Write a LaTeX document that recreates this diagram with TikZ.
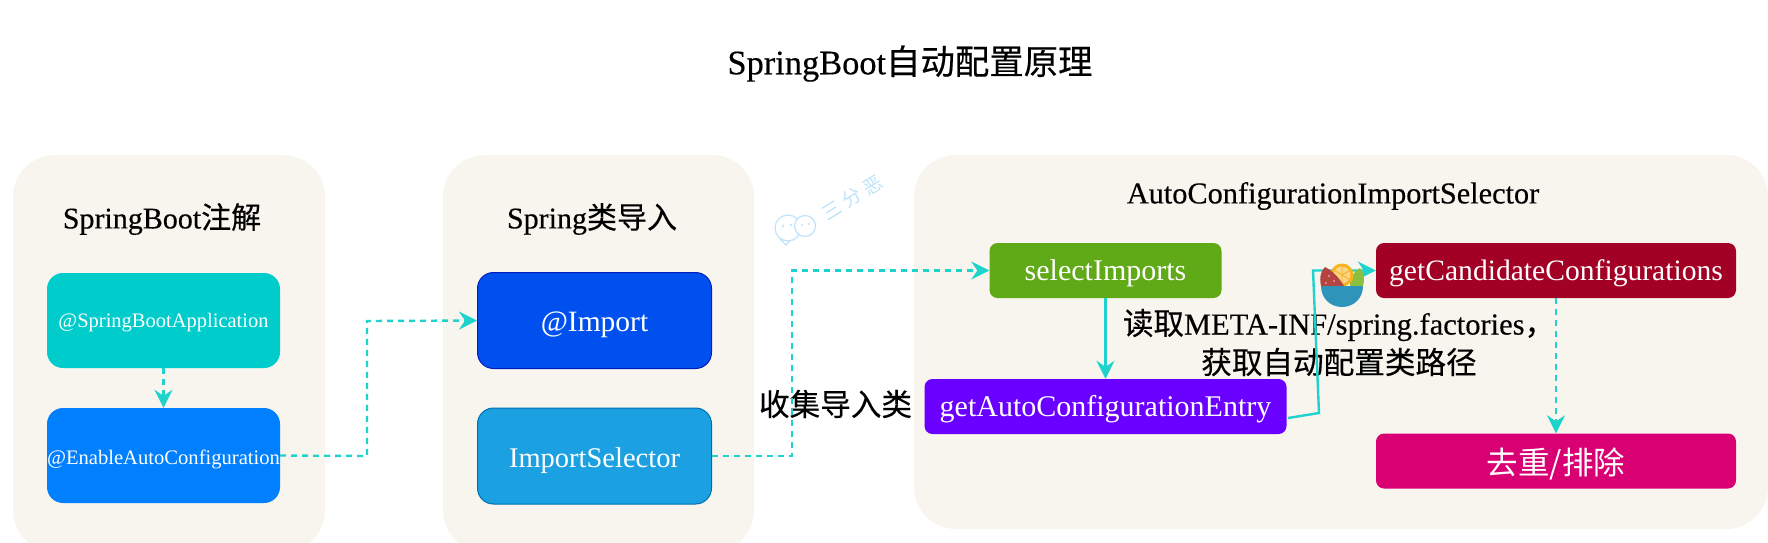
\documentclass[tikz,border=0pt]{standalone}
\usepackage{fontspec}
\setmainfont{Liberation Serif}
\newfontfamily\cjk{Noto Sans CJK SC}
\newfontfamily\hvy[FakeBold=0.35]{Liberation Serif}
\newfontfamily\cjkh[FakeBold=0.35]{Noto Sans CJK SC}
\usetikzlibrary{arrows.meta,positioning}
\definecolor{cream}{HTML}{F8F5EE}
\definecolor{linkc}{HTML}{1FD3CC}
\definecolor{wm}{HTML}{BFE3F8}
\definecolor{cSba}{HTML}{00CCCC}
\definecolor{cEac}{HTML}{007FFF}
\definecolor{cImp}{HTML}{0050EF}
\definecolor{cImpD}{HTML}{001DBC}
\definecolor{cSel}{HTML}{1BA1E2}
\definecolor{cSelD}{HTML}{006EAF}
\definecolor{cGreen}{HTML}{60A917}
\definecolor{cViolet}{HTML}{6A00FF}
\definecolor{cCrim}{HTML}{A20025}
\definecolor{cPink}{HTML}{D80073}
\definecolor{iRed}{HTML}{B5433F}
\definecolor{iGreen}{HTML}{8DBF3F}
\definecolor{iOrange}{HTML}{F7B21E}
\definecolor{iBlue}{HTML}{2E94B9}
\newcommand{\fs}[1]{\fontsize{#1}{#1}\selectfont}
\newcommand{\dn}[2]{\raisebox{-#1pt}[0pt][0pt]{#2}}
\tikzset{
  panel/.style={fill=cream,draw=none,rounded corners=42pt,inner sep=0pt},
  box/.style={rounded corners=#1,inner sep=0pt,text=white,align=center},
  box/.default=8pt,
  link/.style={draw=linkc,line width=2.4pt,-{Stealth[length=18pt,width=18pt,inset=6pt]}},
  dashlink/.style={link,dash pattern=on 6pt off 5pt},
  lbl/.style={inner sep=0pt,text=black,align=center}
}
\begin{document}
\begin{tikzpicture}[x=1pt,y=-1pt]
\useasboundingbox (0,0) rectangle (1768,542);
\clip (0,0) rectangle (1768,542);
\fill[white] (0,0) rectangle (1768,542);
% panels
\node[panel,minimum width=312pt,minimum height=397pt] (p1) at (169,353.5) {};
\node[panel,minimum width=311pt,minimum height=397pt] (p2) at (598.5,353.5) {};
\node[panel,minimum width=854pt,minimum height=374pt] (p3) at (1341,342) {};
% titles
\node[lbl] (title) at (910,63.5) {\fs{34.4}\hvy SpringBoot{\cjkh 自动配置原理}};
\node[lbl] (t1) at (162,219) {\fs{30}\hvy SpringBoot{\cjkh 注解}};
\node[lbl] (t2) at (592,219) {\fs{30}\hvy Spring{\cjkh 类导入}};
\node[lbl] (t3) at (1333,196) {\fs{30.3}\hvy AutoConfigurationImportSelector};
% boxes
\node[box=16pt,fill=cSba,minimum width=233pt,minimum height=95pt] (sba) at (163.5,320.5) {\dn{7}{\fs{20.5}@SpringBootApplication}};
\node[box=16pt,fill=cEac,minimum width=233pt,minimum height=95pt] (eac) at (163.5,455.5) {\dn{9}{\fs{20.6}@EnableAutoConfiguration}};
\node[box=16pt,fill=cImp,draw=cImpD,line width=1pt,minimum width=234pt,minimum height=96pt] (imp) at (594.5,320.5) {\dn{11}{\fs{29.5}@Import}};
\node[box=16pt,fill=cSel,draw=cSelD,line width=1pt,minimum width=234pt,minimum height=96pt] (isel) at (594.5,456) {\dn{11}{\fs{28.5}ImportSelector}};
\node[box,fill=cGreen,minimum width=232pt,minimum height=55pt] (sel) at (1105.5,270.5) {\dn{10}{\fs{30}selectImports}};
\node[box,fill=cViolet,minimum width=362pt,minimum height=55pt] (auto) at (1105.5,406.5) {\dn{10}{\fs{30}getAutoConfigurationEntry}};
\node[box,fill=cCrim,minimum width=360pt,minimum height=55pt] (cand) at (1556,270.5) {\dn{10}{\fs{29.6}getCandidateConfigurations}};
\node[box,fill=cPink,minimum width=360pt,minimum height=55pt] (dedup) at (1556,461) {\dn{13}{\fs{31.5}{\cjk 去重/排除}}};
% labels
\node[lbl] (l1) at (1339,325) {\fs{30.5}\hvy{\cjkh 读取}META-INF/spring.factories{\cjkh ，}};
\node[lbl] (l2) at (1339,362) {\fs{30.6}{\cjkh 获取自动配置类路径}};
\node[lbl] (l3) at (835.5,404) {\fs{30.6}{\cjkh 收集导入类}};
% connectors
\coordinate (c1a) at (367,456);
\coordinate (c1b) at (367,321);
\coordinate (c2a) at (792,456);
\coordinate (c2b) at (792,270.5);
\coordinate (c3s) at (1288,418);
\coordinate (c3a) at (1319,413);
\coordinate (c3b) at (1313,270.5);
\draw[dashlink] (sba.south) -- (eac.north);
\draw[dashlink] (eac.east) -- (c1a) -- (c1b) -- (imp.west);
\draw[dashlink] (isel.east) -- (c2a) -- (c2b) -- (sel.west);
\draw[link] (sel.south) -- (auto.north);
\draw[link] (c3s) -- (c3a) -- (c3b) -- (cand.west);
\draw[dashlink] (cand.south) -- (dedup.north);
% fruit bowl icon
\fill[iGreen] (1350,286) .. controls (1350,277) and (1354,271) .. (1360,268) .. controls (1364,273) and (1365,280) .. (1363,286) -- cycle;
\fill[iOrange] (1342,275) circle (11.5);
\fill[iOrange!55!white] (1342,275) circle (8.5);
\draw[iOrange,line width=.9pt] (1342,275) -- (1342,266.5) (1342,275) -- (1349.5,270.5) (1342,275) -- (1334.5,270.5) (1342,275) -- (1349.5,279.5) (1342,275) -- (1342,283.5);
\fill[iRed] (1321,286) .. controls (1319,277) and (1321,271) .. (1325,267) .. controls (1333,271) and (1340,279) .. (1344,286) -- cycle;
\fill[white!75!iRed] (1329,276) circle (.9) (1334,281) circle (.9) (1326,283) circle (.9);
\fill[iBlue] (1321,286) -- (1363,286) .. controls (1363,298) and (1354,307) .. (1342,307) .. controls (1330,307) and (1321,298) .. (1321,286) -- cycle;
% watermark
\draw[wm,line width=1.2pt,fill=white] (788,228) circle (13);
\draw[wm,line width=1.2pt] (780,239) -- (786,245) -- (790,241);
\draw[wm,line width=1.2pt,fill=white] (805,226) circle (10.5);
\fill[wm] (783,226) circle (1.3) (791,225) circle (1.3) (802,225) circle (1.1) (809,224) circle (1.1);
\node[lbl,text=wm,rotate=32] (wmt) at (852,198) {\fs{19}{\cjk 三\hspace{5pt}分\hspace{5pt}恶}};
\end{tikzpicture}
\end{document}
